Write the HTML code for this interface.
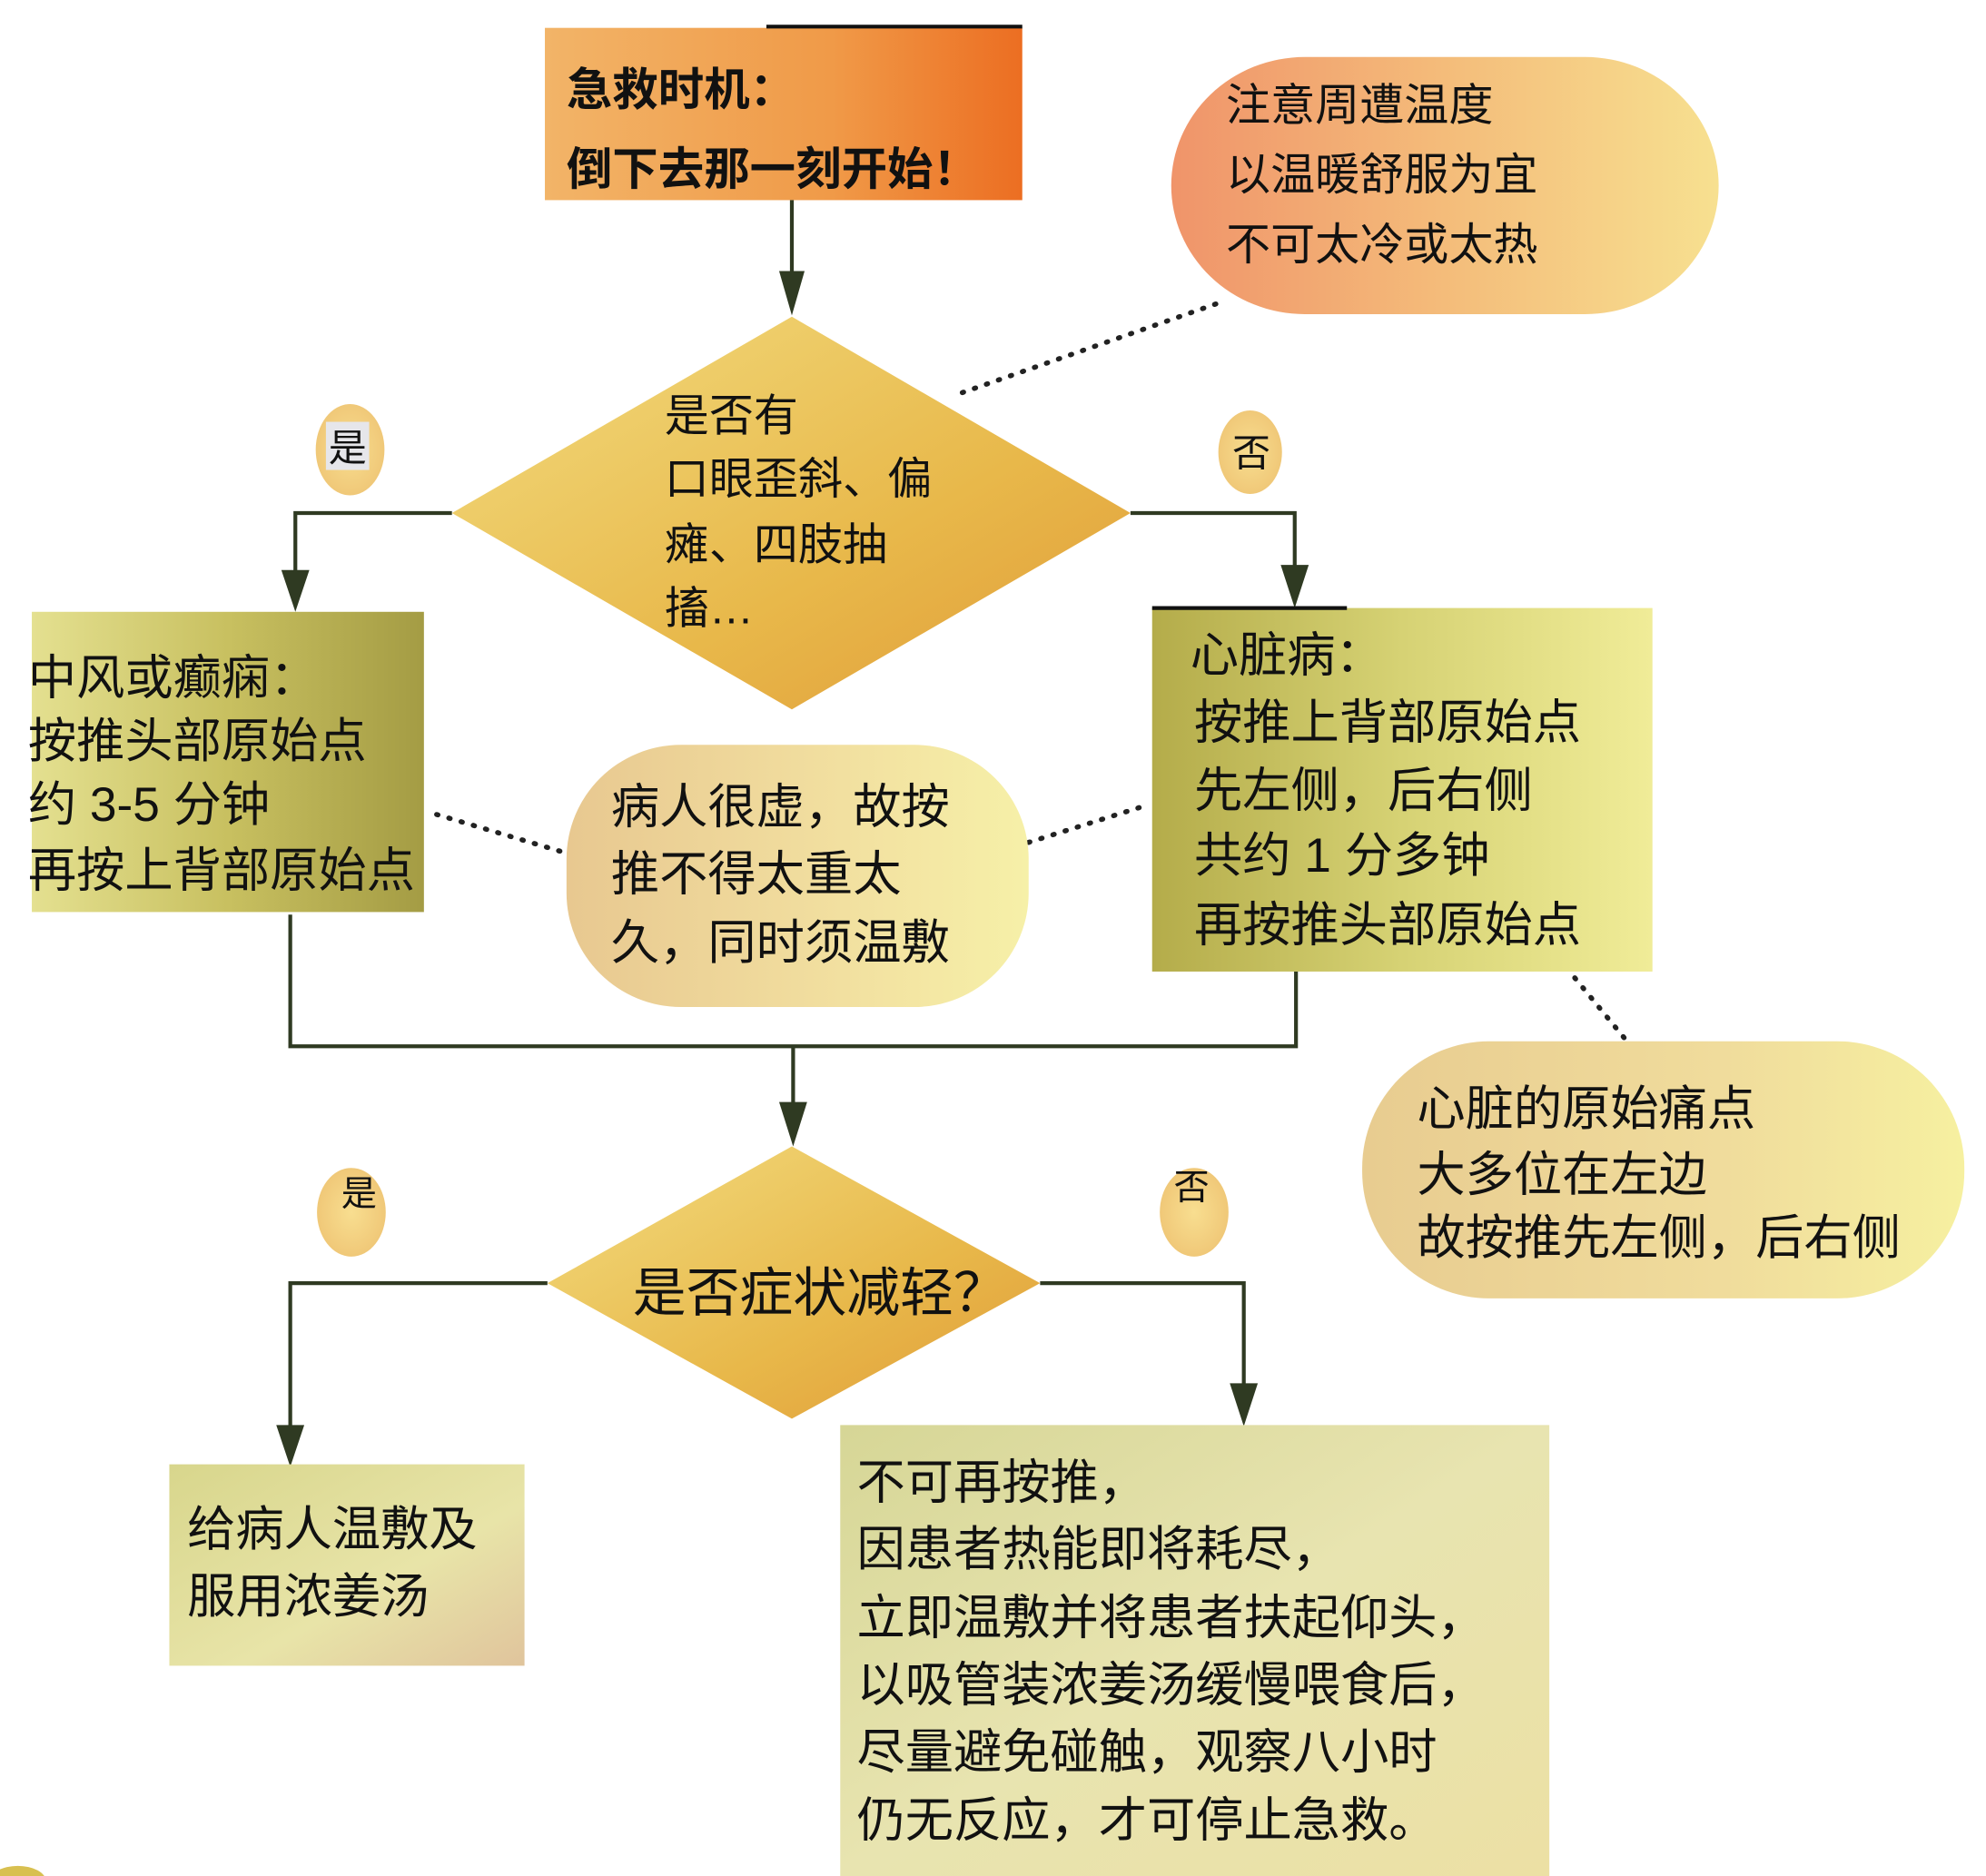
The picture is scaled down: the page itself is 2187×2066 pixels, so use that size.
<!DOCTYPE html>
<html><head><meta charset="utf-8"><style>
html,body{margin:0;padding:0;background:#fff;}
svg{display:block;}
text{font-family:"Liberation Sans","Noto Sans CJK SC","WenQuanYi Zen Hei",sans-serif;fill:#111;}
</style></head><body>
<svg width="2187" height="2066" viewBox="0 0 1560 1481" preserveAspectRatio="none" xmlns="http://www.w3.org/2000/svg">
<defs>
<linearGradient id="gOr" x1="0" y1="0" x2="1" y2="0"><stop offset="0" stop-color="#f2b468"/><stop offset="0.6" stop-color="#f09a48"/><stop offset="1" stop-color="#ec6e22"/></linearGradient>
<linearGradient id="gPk" x1="0" y1="0" x2="1" y2="0"><stop offset="0" stop-color="#f0946a"/><stop offset="0.5" stop-color="#f4bc7a"/><stop offset="1" stop-color="#f7e090"/></linearGradient>
<linearGradient id="gDi" x1="0" y1="0" x2="1" y2="1"><stop offset="0" stop-color="#f2dc80"/><stop offset="0.6" stop-color="#e8b84a"/><stop offset="1" stop-color="#e09a38"/></linearGradient>
<linearGradient id="gOl" x1="0" y1="0" x2="1" y2="0"><stop offset="0" stop-color="#e4e090"/><stop offset="0.5" stop-color="#c8c060"/><stop offset="1" stop-color="#a49c44"/></linearGradient>
<linearGradient id="gOl2" x1="0" y1="0" x2="1" y2="0"><stop offset="0" stop-color="#b4ac4a"/><stop offset="0.5" stop-color="#d6d274"/><stop offset="1" stop-color="#f0ec98"/></linearGradient>
<linearGradient id="gMid" x1="0" y1="0" x2="1" y2="0"><stop offset="0" stop-color="#e8c890"/><stop offset="0.6" stop-color="#f2e0a0"/><stop offset="1" stop-color="#f6f0a8"/></linearGradient>
<linearGradient id="gBR" x1="0" y1="0" x2="1" y2="0"><stop offset="0" stop-color="#e8cc90"/><stop offset="0.6" stop-color="#f0dc9c"/><stop offset="1" stop-color="#f6f0a0"/></linearGradient>
<linearGradient id="gBL" x1="0" y1="0" x2="1" y2="1"><stop offset="0" stop-color="#d8d68c"/><stop offset="0.6" stop-color="#e8e4a8"/><stop offset="1" stop-color="#e0c49c"/></linearGradient>
<linearGradient id="gBB" x1="0" y1="0" x2="1" y2="1"><stop offset="0" stop-color="#d6d696"/><stop offset="0.5" stop-color="#e8e4b0"/><stop offset="1" stop-color="#ece0a4"/></linearGradient>
<radialGradient id="gC"><stop offset="0" stop-color="#f8de90"/><stop offset="1" stop-color="#f0c878"/></radialGradient>
</defs>

<!-- top box -->
<rect x="428" y="22" width="375" height="136" fill="url(#gOr)"/>
<line x1="602" y1="21" x2="803" y2="21" stroke="#111" stroke-width="3"/>
<text x="445" y="83" font-size="36" font-weight="bold">急救时机：</text>
<text x="445" y="146" font-size="36" font-weight="bold">倒下去那一刻开始！</text>

<!-- top right rounded -->
<rect x="920" y="45" width="430" height="203" rx="105" fill="url(#gPk)"/>
<text x="963" y="95" font-size="35">注意周遭温度</text>
<text x="963" y="150" font-size="35">以温暖舒服为宜</text>
<text x="963" y="205" font-size="35">不可太冷或太热</text>

<!-- connectors -->
<g stroke="#2f3a22" stroke-width="3" fill="none">
<line x1="622" y1="158" x2="622" y2="220"/>
<polyline points="355,405 232,405 232,455"/>
<polyline points="888,405 1017,405 1017,450"/>
<polyline points="228,722 228,826 1018,826 1018,767"/>
<line x1="623" y1="826" x2="623" y2="875"/>
<polyline points="430,1013 228,1013 228,1130"/>
<polyline points="817,1013 977,1013 977,1095"/>
</g>
<g fill="#2f3a22">
<polygon points="612,214 632,214 622,249"/>
<polygon points="221,450 243,450 232,483"/>
<polygon points="1006,446 1028,446 1017,480"/>
<polygon points="612,870 634,870 623,905"/>
<polygon points="217,1125 239,1125 228,1158"/>
<polygon points="966,1092 988,1092 977,1126"/>
</g>
<g stroke="#222" stroke-width="4" stroke-dasharray="1 9" stroke-linecap="round" fill="none">
<line x1="955" y1="240" x2="750" y2="312"/>
<line x1="343" y1="643" x2="440" y2="672"/>
<line x1="808" y1="665" x2="903" y2="635"/>
<line x1="1237" y1="772" x2="1278" y2="822"/>
</g>

<!-- diamond 1 -->
<polygon points="622,250 888,405 622,560 355,405" fill="url(#gDi)"/>
<text x="522" y="340" font-size="35">是否有</text>
<text x="522" y="390" font-size="35">口眼歪斜、偏</text>
<text x="522" y="442" font-size="35">瘫、四肢抽</text>
<text x="522" y="492" font-size="35">搐…</text>

<ellipse cx="275" cy="355" rx="27" ry="36" fill="url(#gC)"/>
<rect x="256" y="333" width="34" height="38" fill="#e6e6ea"/>
<text x="258" y="364" font-size="30">是</text>
<ellipse cx="982" cy="357" rx="25" ry="33" fill="url(#gC)"/>
<text x="968" y="368" font-size="30">否</text>

<!-- left box -->
<rect x="25" y="483" width="308" height="237" fill="url(#gOl)"/>
<text x="22" y="548" font-size="38">中风或癫痫：</text>
<text x="22" y="598" font-size="38">按推头部原始点</text>
<text x="22" y="648" font-size="38">约 3-5 分钟</text>
<text x="22" y="700" font-size="38">再按上背部原始点</text>

<!-- middle rounded -->
<rect x="445" y="588" width="363" height="207" rx="90" fill="url(#gMid)"/>
<text x="480" y="650" font-size="38">病人很虚，故按</text>
<text x="480" y="703" font-size="38">推不得太重太</text>
<text x="480" y="757" font-size="38">久，同时须温敷</text>

<!-- right box -->
<rect x="905" y="480" width="393" height="287" fill="url(#gOl2)"/>
<line x1="905" y1="480" x2="1058" y2="480" stroke="#111" stroke-width="3"/>
<text x="935" y="530" font-size="38">心脏病：</text>
<text x="938" y="583" font-size="38">按推上背部原始点</text>
<text x="938" y="637" font-size="38">先左侧，后右侧</text>
<text x="938" y="688" font-size="38">共约 1 分多钟</text>
<text x="938" y="743" font-size="38">再按推头部原始点</text>

<!-- bottom right rounded -->
<rect x="1070" y="822" width="473" height="203" rx="100" fill="url(#gBR)"/>
<text x="1113" y="888" font-size="38">心脏的原始痛点</text>
<text x="1113" y="940" font-size="38">大多位在左边</text>
<text x="1113" y="990" font-size="38">故按推先左侧，后右侧</text>

<!-- diamond 2 -->
<polygon points="622,905 817,1013 622,1120 430,1013" fill="url(#gDi)"/>
<text x="497" y="1035" font-size="42">是否症状减轻？</text>

<ellipse cx="276" cy="957" rx="27" ry="35" fill="url(#gC)"/>
<text x="268" y="952" font-size="28">是</text>
<ellipse cx="938" cy="957" rx="27" ry="35" fill="url(#gC)"/>
<text x="922" y="947" font-size="28">否</text>

<!-- bottom left box -->
<rect x="133" y="1156" width="279" height="159" fill="url(#gBL)"/>
<text x="147" y="1220" font-size="38">给病人温敷及</text>
<text x="147" y="1273" font-size="38">服用浓姜汤</text>

<!-- big box -->
<rect x="660" y="1125" width="557" height="356" fill="url(#gBB)"/>
<text x="673" y="1183" font-size="38">不可再按推，</text>
<text x="673" y="1236" font-size="38">因患者热能即将耗尽，</text>
<text x="673" y="1290" font-size="38">立即温敷并将患者扶起仰头，</text>
<text x="673" y="1343" font-size="38">以吸管装浓姜汤缓慢喂食后，</text>
<text x="673" y="1396" font-size="38">尽量避免碰触，观察八小时</text>
<text x="673" y="1450" font-size="38">仍无反应，才可停止急救。</text>

<ellipse cx="14" cy="1485" rx="22" ry="12" fill="#d8c050"/>
</svg>
</body></html>
